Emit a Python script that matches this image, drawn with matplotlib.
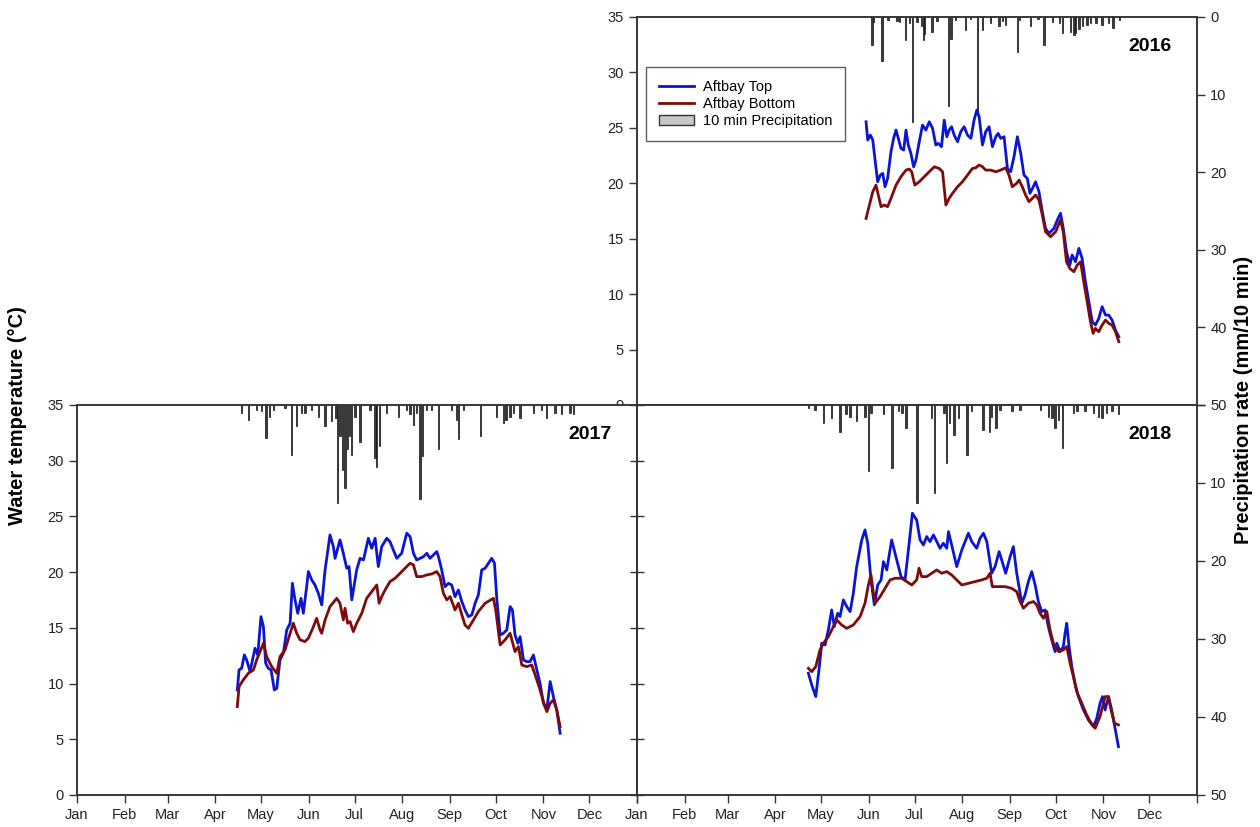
import numpy as np
import matplotlib
matplotlib.use("Agg")
import matplotlib.pyplot as plt
from matplotlib.lines import Line2D
from matplotlib.patches import Patch

plt.rcParams["font.family"] = ["Liberation Sans", "DejaVu Sans"]

# ---- data (day of year) ----
top16_day = [149.7, 150.8, 152.5, 154.1, 155.6, 157.3, 159.0, 160.6, 162.1, 163.8, 166.0, 167.7,
             169.3, 170.8, 172.5, 174.3, 175.8, 177.3, 179.0, 180.8, 182.3, 184.5, 186.6, 188.8,
             191.0, 193.2, 195.3, 196.9, 199.0, 200.8, 202.5, 204.0, 205.6, 207.3, 209.5, 211.6,
             213.8, 216.0, 218.2, 220.3, 222.1, 223.6, 225.8, 227.9, 230.1, 232.3, 234.5, 236.0,
             237.7, 239.9, 242.1, 244.2, 246.4, 248.6, 250.8, 252.9, 255.1, 256.8, 259.0, 260.5,
             262.7, 264.9, 267.0, 269.2, 272.5, 274.7, 276.8, 278.6, 280.7, 282.9, 284.4, 286.6,
             288.8, 290.9, 293.1, 295.3, 297.5, 299.6, 301.8, 304.0, 306.2, 308.3, 310.5, 312.7,
             314.9]
top16_temp = [25.55, 23.9, 24.35, 23.9, 22.1, 20.14, 20.74, 20.89, 19.69, 20.44, 22.85, 24.05,
              24.8, 24.05, 23.15, 23.0, 24.8, 23.45, 22.7, 21.49, 22.1, 23.75, 25.25, 24.8,
              25.55, 24.95, 23.45, 23.6, 23.3, 25.7, 24.2, 24.8, 25.1, 24.35, 23.75, 24.65,
              25.1, 24.35, 24.05, 25.7, 26.61, 26.01, 23.45, 24.65, 25.1, 23.3, 24.2, 24.5,
              24.05, 24.2, 21.34, 21.04, 22.4, 24.2, 22.7, 20.74, 20.44, 19.09, 19.69, 20.14,
              19.24, 17.44, 15.93, 15.48, 15.93, 16.68, 17.29, 15.93, 13.83, 12.62, 13.53, 12.92,
              14.13, 13.23, 11.12, 9.32, 7.51, 7.21, 7.81, 8.87, 8.11, 8.11, 7.66, 6.76,
              6.16]
bot16_day = [149.7, 151.9, 154.1, 156.2, 157.7, 159.5, 161.7, 163.8, 166.0, 169.3, 172.5, 175.8,
             178.0, 179.5, 181.6, 184.5, 187.7, 191.0, 194.3, 197.5, 199.7, 201.9, 204.0, 206.2,
             209.5, 212.7, 216.0, 219.2, 221.4, 223.6, 225.8, 227.9, 231.2, 234.5, 237.7, 241.0,
             243.1, 245.3, 248.1, 249.7, 251.8, 254.0, 256.2, 258.4, 260.5, 262.7, 264.9, 267.0,
             270.3, 273.6, 276.8, 278.6, 280.7, 282.9, 285.5, 287.7, 289.9, 292.0, 294.2, 296.4,
             298.1, 299.6, 301.8, 304.0, 306.2, 308.3, 310.5, 312.7, 314.9]
bot16_temp = [16.83, 18.04, 19.24, 19.84, 18.94, 17.89, 18.04, 17.89, 18.64, 19.84, 20.59, 21.19,
              21.28, 21.04, 19.84, 20.14, 20.59, 21.04, 21.49, 21.34, 21.04, 18.04, 18.64, 19.09,
              19.69, 20.14, 20.74, 21.34, 21.4, 21.65, 21.49, 21.19, 21.19, 21.04, 21.19, 21.4,
              20.74, 19.69, 19.99, 20.29, 19.69, 18.94, 18.34, 18.64, 18.94, 18.49, 17.13, 15.63,
              15.18, 15.63, 16.68, 15.63, 12.92, 12.32, 12.02, 12.62, 12.92, 11.12, 9.32, 7.51,
              6.46, 6.91, 6.61, 7.21, 7.66, 7.36, 7.21, 6.61, 5.71]

top17_day = [104.5, 105.6, 107.3, 109.1, 110.6, 112.8, 116.0, 117.8, 119.9, 121.5, 123.0, 124.7,
             126.5, 128.6, 130.2, 132.3, 134.5, 136.7, 138.9, 140.4, 142.1, 143.9, 146.0, 147.5,
             149.7, 150.8, 153.0, 155.1, 157.3, 159.5, 161.7, 164.9, 167.1, 168.2, 171.4, 173.6,
             175.8, 177.3, 179.1, 182.3, 184.5, 186.7, 189.9, 192.1, 194.3, 196.4, 198.6, 201.9,
             204.0, 206.2, 208.4, 211.6, 214.9, 217.1, 219.3, 221.4, 225.8, 228.0, 230.1, 232.3,
             234.5, 235.6, 237.7, 239.9, 242.1, 244.2, 246.4, 248.6, 250.8, 252.9, 255.1, 257.3,
             259.5, 261.6, 263.8, 266.0, 268.2, 270.3, 272.1, 273.6, 275.8, 277.9, 280.1, 282.3,
             283.8, 285.5, 287.3, 288.8, 291.0, 293.1, 295.3, 297.5, 299.7, 301.8, 304.0, 306.2,
             308.4, 310.5, 312.7, 314.9]
top17_temp = [9.43, 11.22, 11.37, 12.57, 12.12, 11.07, 13.17, 12.57, 16.01, 15.11, 11.82, 11.37,
              11.22, 9.43, 9.58, 12.12, 12.72, 14.81, 15.41, 19.0, 17.51, 16.31, 17.65, 16.31,
              18.7, 20.05, 19.3, 18.85, 18.1, 17.06, 20.2, 23.34, 22.29, 21.24, 22.89, 21.69,
              20.35, 20.5, 17.51, 20.2, 21.24, 21.09, 23.04, 22.14, 23.04, 20.5, 22.29, 23.04,
              22.74, 21.99, 21.24, 21.69, 23.49, 23.19, 21.69, 21.09, 21.39, 21.69, 21.24, 21.54,
              21.84, 21.39, 20.2, 18.7, 19.0, 18.85, 17.8, 18.4, 17.36, 16.61, 16.01, 16.16,
              17.21, 17.95, 20.2, 20.35, 20.8, 21.24, 20.8, 17.65, 14.36, 14.51, 14.81, 16.91,
              16.61, 14.36, 13.62, 14.21, 12.12, 11.97, 11.97, 12.57, 11.22, 10.03, 8.23, 7.63,
              10.18, 8.83, 7.63, 5.54]
bot17_day = [104.5, 105.6, 108.4, 111.7, 115.0, 117.1, 119.3, 121.5, 123.6, 126.9, 130.2, 132.3,
             135.6, 138.9, 141.0, 143.2, 145.4, 148.6, 150.8, 154.1, 156.2, 158.4, 159.5, 161.7,
             164.9, 169.3, 171.4, 173.6, 174.7, 176.4, 178.0, 180.1, 182.3, 185.6, 188.8, 192.1,
             195.4, 196.9, 198.6, 200.8, 204.0, 207.3, 210.6, 214.9, 217.1, 219.3, 221.4, 224.7,
             228.0, 231.2, 234.5, 236.6, 238.8, 241.0, 243.2, 246.4, 248.6, 251.2, 252.9, 255.1,
             258.4, 261.6, 266.0, 271.4, 272.9, 275.8, 279.0, 282.3, 285.5, 287.7, 289.9, 293.1,
             296.4, 299.7, 301.8, 304.0, 306.2, 308.4, 310.5, 312.7, 314.9]
bot17_temp = [7.93, 9.73, 10.33, 10.93, 11.22, 12.12, 12.87, 13.62, 12.42, 11.52, 10.93, 12.42,
              13.02, 14.51, 15.41, 14.51, 13.92, 13.77, 14.07, 15.11, 15.86, 14.81, 14.51, 15.71,
              16.91, 17.65, 17.21, 15.71, 16.76, 15.41, 15.56, 14.66, 15.41, 16.31, 17.65, 18.25,
              18.85, 17.21, 17.8, 18.4, 19.15, 19.45, 19.9, 20.5, 20.8, 20.65, 19.6, 19.6,
              19.75, 19.84, 20.05, 19.6, 18.1, 17.51, 17.8, 16.61, 17.21, 16.01, 15.26, 14.96,
              15.71, 16.46, 17.21, 17.65, 16.61, 13.47, 13.92, 14.51, 12.87, 13.32, 11.67, 11.52,
              11.67, 10.33, 9.43, 8.38, 7.48, 8.23, 8.53, 7.63, 6.14]

top18_day = [111.7, 113.9, 116.5, 118.6, 120.4, 122.6, 124.7, 126.9, 128.6, 130.8, 132.3, 134.5,
             136.7, 138.9, 141.0, 143.2, 146.5, 148.6, 150.4, 152.5, 154.7, 156.9, 159.1, 160.6,
             162.8, 166.0, 169.3, 172.1, 174.7, 177.5, 179.5, 182.3, 184.5, 186.7, 188.8, 191.0,
             193.2, 195.4, 197.5, 199.7, 201.9, 203.0, 205.1, 208.4, 211.7, 216.0, 218.2, 221.4,
             223.6, 225.8, 228.0, 231.2, 233.4, 236.0, 237.7, 240.3, 243.2, 245.3, 247.5, 250.8,
             252.9, 255.1, 257.3, 259.5, 261.6, 263.8, 266.0, 268.1, 270.3, 272.5, 273.6, 275.8,
             277.9, 279.0, 280.1, 281.6, 283.4, 285.5, 287.7, 291.0, 294.2, 297.5, 299.7, 301.8,
             303.4, 305.1, 307.3, 309.4, 311.6, 313.8]
top18_temp = [10.93, 9.88, 8.83, 11.22, 13.62, 13.47, 14.81, 16.61, 15.11, 16.31, 16.01, 17.51,
              16.91, 16.46, 18.1, 20.5, 22.89, 23.79, 22.59, 19.3, 17.06, 18.85, 19.3, 20.94,
              20.2, 22.89, 21.09, 19.6, 19.3, 22.74, 25.28, 24.68, 22.89, 22.44, 23.19, 22.74,
              23.34, 22.74, 22.14, 22.59, 22.14, 23.64, 22.44, 20.5, 21.99, 23.49, 22.74, 22.14,
              23.04, 23.49, 22.74, 19.9, 20.5, 21.84, 21.09, 19.9, 21.39, 22.29, 19.9, 17.21,
              17.95, 19.15, 20.05, 18.85, 17.36, 16.46, 16.61, 15.11, 13.92, 12.87, 13.62, 12.87,
              13.32, 14.51, 15.41, 13.32, 11.52, 10.03, 8.83, 7.63, 6.74, 6.14, 6.89, 8.23,
              8.83, 7.63, 8.83, 7.63, 5.99, 4.34]
bot18_day = [111.7, 113.9, 116.5, 119.3, 121.5, 124.7, 128.0, 130.2, 133.4, 136.7, 141.0, 145.4,
             148.6, 150.8, 152.5, 154.1, 155.2, 158.4, 161.7, 164.9, 168.2, 172.5, 175.8, 179.1,
             182.3, 183.8, 185.6, 188.8, 192.1, 195.4, 198.6, 201.9, 205.1, 208.4, 211.7, 216.0,
             220.3, 224.7, 228.0, 230.1, 231.6, 235.6, 239.9, 244.2, 247.5, 249.7, 251.9, 255.1,
             258.4, 260.5, 262.7, 264.9, 267.1, 269.2, 271.4, 274.7, 277.9, 280.1, 282.3, 284.4,
             286.6, 289.9, 293.1, 295.3, 298.6, 301.8, 305.1, 307.3, 309.0, 311.2, 313.8]
bot18_temp = [11.37, 11.07, 11.52, 13.02, 13.62, 14.21, 15.11, 15.71, 15.26, 14.96, 15.26, 16.01,
              17.21, 18.85, 19.75, 18.1, 17.21, 17.8, 18.55, 19.3, 19.45, 19.45, 19.15, 18.85,
              19.3, 20.35, 19.6, 19.6, 19.9, 20.2, 19.9, 20.05, 19.75, 19.3, 18.85, 19.0,
              19.15, 19.3, 19.45, 19.9, 18.7, 18.7, 18.7, 18.55, 18.25, 17.36, 16.76, 17.21,
              17.36, 17.06, 16.31, 15.86, 16.46, 14.81, 13.62, 12.87, 13.02, 13.32, 11.82, 10.63,
              9.28, 8.23, 7.19, 6.59, 5.99, 7.04, 8.83, 8.83, 7.63, 6.44, 6.29]

# 10 min precipitation (mm/10 min)
rain16_day = [153.7, 154.6, 160.2, 164.0, 170.0, 171.5, 175.4, 178.0, 180.2, 183.0, 186.0, 187.1,
              188.0, 192.8, 196.0, 203.7, 205.2, 208.0, 214.5, 218.0, 222.6, 226.0, 231.0, 236.6,
              239.0, 241.0, 248.6, 250.0, 257.3, 262.0, 266.0, 271.5, 276.0, 278.0, 283.4, 285.6,
              286.7, 288.8, 291.0, 294.0, 296.5, 300.0, 304.0, 308.0, 311.0, 315.4]
rain16_mm = [3.6, 0.6, 5.7, 0.4, 0.5, 0.6, 3.0, 0.8, 13.5, 0.6, 1.2, 3.0,
             2.2, 1.9, 0.5, 11.5, 2.8, 0.4, 1.7, 0.3, 12.6, 1.7, 0.8, 1.2,
             0.5, 1.0, 4.5, 0.4, 1.2, 0.3, 3.6, 0.6, 0.8, 2.1, 1.9, 2.3,
             2.1, 1.5, 1.2, 1.0, 0.8, 0.8, 1.0, 0.8, 1.4, 0.4]
rain17_day = [107.3, 111.7, 117.1, 120.3, 123.2, 125.3, 127.9, 135.6, 139.9, 143.2, 146.4, 148.6,
              152.9, 157.3, 161.6, 166.0, 168.8, 169.7, 171.4, 173.1, 174.7, 176.2, 177.5, 179.0,
              181.2, 184.4, 191.0, 194.2, 195.3, 197.1, 201.8, 209.4, 214.9, 217.0, 219.2, 221.4,
              223.6, 225.3, 227.9, 231.2, 235.5, 244.2, 247.5, 248.5, 251.8, 263.1, 273.5, 277.9,
              279.6, 282.2, 284.4, 288.7, 297.4, 302.9, 306.1, 311.6, 315.9, 321.3, 323.5]
rain17_mm = [1.0, 1.9, 0.6, 0.8, 4.2, 1.5, 0.6, 0.4, 6.4, 2.7, 1.0, 1.0,
             0.6, 1.5, 2.7, 2.1, 1.7, 12.6, 4.0, 8.3, 10.6, 5.7, 4.0, 6.4,
             1.5, 4.7, 0.6, 6.8, 7.9, 5.3, 1.0, 1.5, 0.6, 1.2, 2.5, 1.0,
             12.1, 6.6, 0.6, 0.6, 5.7, 0.6, 1.9, 4.4, 0.6, 4.0, 1.5, 2.3,
             1.9, 1.5, 1.0, 1.7, 1.0, 0.6, 1.7, 1.0, 1.2, 1.0, 1.2]
rain18_day = [111.7, 116.1, 121.5, 126.9, 132.4, 136.3, 138.9, 143.2, 148.7, 150.8, 152.4, 160.6,
              166.1, 170.4, 172.6, 175.4, 182.4, 192.1, 193.9, 200.2, 201.9, 203.7, 206.7, 209.5,
              215.0, 218.2, 225.4, 229.7, 231.2, 234.1, 236.7, 244.3, 249.7, 262.8, 268.2, 270.4,
              272.5, 274.7, 277.3, 284.5, 286.7, 292.1, 297.5, 300.8, 303.0, 306.2, 309.5, 313.8]
rain18_mm = [0.4, 0.6, 2.3, 1.7, 3.4, 1.2, 1.5, 2.1, 1.5, 8.5, 1.0, 1.2,
             8.1, 0.8, 1.0, 2.9, 12.6, 1.7, 11.3, 1.0, 7.4, 2.3, 3.8, 1.7,
             6.4, 0.8, 3.2, 3.4, 1.5, 2.9, 0.6, 0.8, 0.6, 0.6, 1.5, 1.7,
             2.9, 1.9, 5.5, 1.0, 0.8, 0.8, 1.0, 1.5, 1.7, 1.0, 0.8, 1.2]

months = ["Jan", "Feb", "Mar", "Apr", "May", "Jun", "Jul", "Aug", "Sep", "Oct", "Nov", "Dec"]

BLUE = "#0b14d4"
RED = "#7f0a0a"
TICK = dict(labelsize=10.5, length=6, width=1, color="#333333", labelcolor="#222222")


def month_starts(year):
    d0 = np.datetime64(f"{year}-01-01")
    starts = [(np.datetime64(f"{year}-{m:02d}-01") - d0).astype(int) for m in range(1, 13)]
    return starts + [(np.datetime64(f"{year + 1}-01-01") - d0).astype(int)]


def panel(rect, year, top_d, top_t, bot_d, bot_t, rain_d, rain_mm, z):
    ax = fig.add_axes(rect)
    ax2 = ax.twinx()
    ax2.bar(rain_d, rain_mm, width=0.9, color="#3a3a3a", edgecolor="#111111", linewidth=0.5)
    ax2.set_ylim(50, 0)
    ax.plot(top_d, top_t, color=BLUE, lw=2)
    ax.plot(bot_d, bot_t, color=RED, lw=2)
    ax2.set_zorder(z)
    ax.set_zorder(z + 1)
    ax.patch.set_visible(False)
    ax2.patch.set_visible(True)
    ax2.patch.set_facecolor("white")
    ax.set_ylim(0, 35)
    ax.set_yticks(range(0, 36, 5))
    ticks = month_starts(year)
    ax.set_xlim(0, ticks[-1])
    ax.set_xticks(ticks)
    for a in (ax, ax2):
        for s in a.spines.values():
            s.set_linewidth(1.1)
            s.set_color("#333333")
    ax.tick_params(**TICK)
    ax2.tick_params(**TICK)
    ax.text(0.955, 0.925, str(year), transform=ax.transAxes, ha="right", va="center",
            fontsize=14, fontweight="bold")
    return ax, ax2


fig = plt.figure(figsize=(12.6, 8.27), dpi=100)

W, H = 1260, 827
# top panel 2016 first so the lower panels sit over its bottom label
ax16, ax16r = panel([637 / W, 1 - 405 / H, 560 / W, 388 / H], 2016,
                    top16_day, top16_temp, bot16_day, bot16_temp, rain16_day, rain16_mm, 0)
ax16.set_xticklabels([])
ax16.tick_params(axis="x", length=0)
ax16r.set_yticks(range(0, 51, 10))

ax17, ax17r = panel([77 / W, 1 - 795 / H, 560 / W, 390 / H], 2017,
                    top17_day, top17_temp, bot17_day, bot17_temp, rain17_day, rain17_mm, 2)
ax17.set_xticklabels(months + ["Jan"])
ax17r.set_yticks([])

ax18, ax18r = panel([637 / W, 1 - 795 / H, 560 / W, 390 / H], 2018,
                    top18_day, top18_temp, bot18_day, bot18_temp, rain18_day, rain18_mm, 2)
# the shared Jan at the seam is labelled by the 2017 panel
ax18.set_xticklabels([""] + months[1:] + [""])
ax18.set_yticklabels([])
ax18.tick_params(axis="y", direction="inout", length=10)
# the 0 at the seam sits under the 50 of the 2016 axis
ax18r.set_yticks(range(0, 51, 10))
ax18r.set_yticklabels([""] + [str(v) for v in range(10, 51, 10)])

fig.text(0.014, 0.497, "Water temperature (\u00b0C)", rotation=90, ha="center", va="center",
         fontsize=14.5, fontweight="bold")
fig.text(0.987, 0.517, "Precipitation rate (mm/10 min)", rotation=90, ha="center", va="center",
         fontsize=14.5, fontweight="bold")

handles = [Line2D([], [], color=BLUE, lw=2), Line2D([], [], color=RED, lw=2),
           Patch(facecolor="#c8c8c8", edgecolor="#333333")]
leg = ax16.legend(handles, ["Aftbay Top", "Aftbay Bottom", "10 min Precipitation"],
                  loc="upper left", bbox_to_anchor=(0.003, 0.89), fontsize=10.5,
                  frameon=True, fancybox=False, handlelength=2.4, labelspacing=0.2,
                  borderpad=0.9, handletextpad=0.6)
leg.get_frame().set_edgecolor("#333333")
leg.get_frame().set_linewidth(1)

fig.savefig("out.png", dpi=100)
